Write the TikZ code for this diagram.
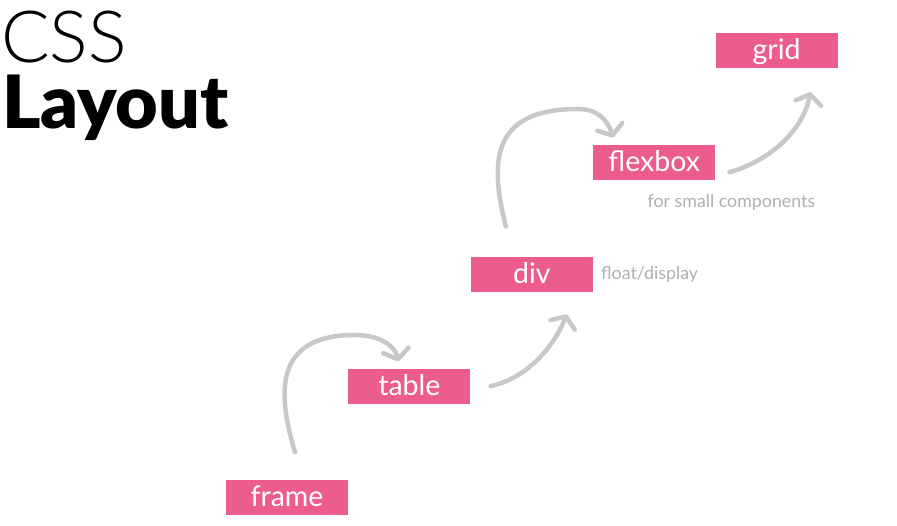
\documentclass[tikz,border=0pt]{standalone}
\usepackage{fontspec}
\setmainfont{Lato}
\newfontfamily\csslight{Lato Light}
\newfontfamily\cssblack{Lato Black}
\usetikzlibrary{arrows.meta, positioning}
\definecolor{techpink}{HTML}{EC5C8D}
\definecolor{flowgray}{HTML}{C8C8C8}
\definecolor{notegray}{HTML}{AFAFAF}
\tikzset{%
	tech/.style={fill=techpink, text=white, rectangle, inner sep=0pt,%
		minimum width=122pt, minimum height=35pt, text height=20pt, text depth=2pt,%
		font=\fontsize{28.5}{28.5}\selectfont},
	flow/.style={draw=flowgray, line width=4.5pt, line cap=round, line join=round,%
		-{Straight Barb[length=9pt, width=26pt, line cap=round, line join=round]}},
	note/.style={text=notegray, inner sep=0pt, font=\fontsize{17.8}{17.8}\selectfont},
	heading/.style={anchor=base west, inner sep=0pt, text height=52pt, text depth=0pt}
}
\begin{document}
\begin{tikzpicture}[x=1pt, y=1pt]
	\useasboundingbox (0,0) rectangle (897,526);
	\node[heading, font=\csslight\fontsize{72}{72}\selectfont] (css) at (1,463) {CSS};
	\node[heading, font=\cssblack\fontsize{73.5}{73.5}\selectfont] (layout) at (2,397.5) {Layout};

	\node[tech] (frame) at (287,28) {frame};
	\node[tech, above right=76.5pt and 0pt of frame] (table) {table};
	\node[tech, above right=76.5pt and 0pt of table] (div) {div};
	\node[tech, above right=76.5pt and 0pt of div] (flexbox) {flexbox};
	\node[tech, above right=76.5pt and 0pt of flexbox] (grid) {grid};

	\node[note, right=8pt of div] (divnote) {float/display};
	\node[note, anchor=base west] (flexnote) at ([xshift=-68pt, yshift=-28pt]flexbox.south east) {for small components};

	\draw[flow] ([xshift=8pt, yshift=28pt]frame.north) .. controls +(-17,57) and (272,191) .. (355,191)
		.. controls (380,191) and (395,180) .. ([xshift=-11pt, yshift=7pt]table.north);
	\draw[flow] ([xshift=20pt]table.east) .. controls +(38,8) and +(-12,-30) .. ([xshift=35pt, yshift=-22.5pt]div.south);
	\draw[flow] ([xshift=-26pt, yshift=30pt]div.north) .. controls +(-15,61) and (488,417) .. (578,417)
		.. controls (598,417) and (608,405) .. ([xshift=-41pt, yshift=7pt]flexbox.north);
	\draw[flow] ([xshift=14pt, yshift=-10pt]flexbox.east) .. controls +(42,12) and +(-8,-38) .. ([xshift=34pt, yshift=-24pt]grid.south);
\end{tikzpicture}
\end{document}
